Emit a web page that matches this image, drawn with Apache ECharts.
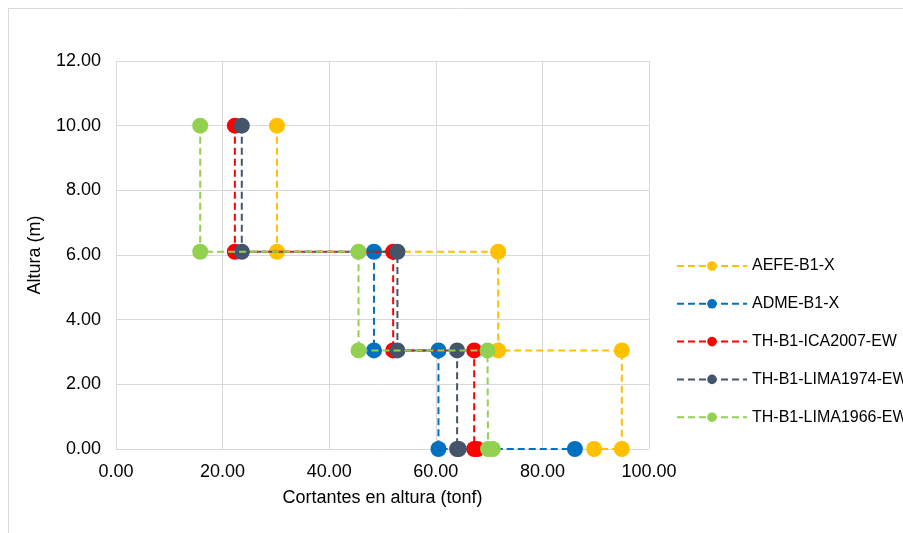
<!DOCTYPE html>
<html>
<head>
<meta charset="utf-8">
<script src="https://cdn.jsdelivr.net/npm/echarts@6/dist/echarts.min.js"></script>
<style>
html,body{margin:0;padding:0;background:#fff;}
#chart{width:903px;height:533px;}
</style>
</head>
<body>
<div id="chart"></div>
<script>
// Series names
const seriesNames = ['AEFE-B1-X','ADME-B1-X','TH-B1-ICA2007-EW','TH-B1-LIMA1974-EW','TH-B1-LIMA1966-EW'];
// Shear (tonf) and height (m) for each series
const aefeX = [30.2, 30.2, 71.7, 71.7, 94.9, 94.9, 89.7];
const aefeY = [10.0, 6.1, 6.1, 3.05, 3.05, 0.0, 0.0];
const admeX = [48.4, 48.4, 60.5, 60.5, 86.1];
const admeY = [6.1, 3.05, 3.05, 0.0, 0.0];
const ica2007X = [22.3, 22.3, 52.0, 52.0, 67.2, 67.2, 67.8];
const ica2007Y = [10.0, 6.1, 6.1, 3.05, 3.05, 0.0, 0.0];
const lima1974X = [23.6, 23.6, 52.8, 52.8, 64.0, 64.0, 64.3];
const lima1974Y = [10.0, 6.1, 6.1, 3.05, 3.05, 0.0, 0.0];
const lima1966X = [15.8, 15.8, 45.5, 45.5, 69.7, 69.8, 70.7];
const lima1966Y = [10.0, 6.1, 6.1, 3.05, 3.05, 0.0, 0.0];
const colors = ['#FFC000','#0070C0','#FF0000','#44546A','#92D050'];

const xs = [aefeX, admeX, ica2007X, lima1974X, lima1966X];
const ys = [aefeY, admeY, ica2007Y, lima1974Y, lima1966Y];

const chart = echarts.init(document.getElementById('chart'));
const font = 'Liberation Sans, Arial, sans-serif';
const series = seriesNames.map((n, i) => ({
  name: n,
  type: 'line',
  data: xs[i].map((x, k) => [x, ys[i][k]]),
  symbol: 'circle',
  symbolSize: 16,
  color: colors[i],
  lineStyle: {width: 2, type: [7, 4], color: colors[i]},
  itemStyle: {color: colors[i]},
  z: 2 + i
}));

chart.setOption({
  animation: false,
  backgroundColor: '#fff',
  graphic: [{
    type: 'rect', shape: {x: 8.5, y: 8.5, width: 1000, height: 1000},
    style: {fill: 'none', stroke: '#d9d9d9', lineWidth: 1}, silent: true
  }],
  grid: {left: 116, right: 254, top: 61, bottom: 84},
  legend: {
    orient: 'vertical', left: 671, top: 253,
    itemWidth: 70, itemHeight: 12, itemGap: 21.8,
    textStyle: {fontFamily: font, fontSize: 16, lineHeight: 16, color: '#000'},
    data: seriesNames
  },
  xAxis: {
    type: 'value', min: 0, max: 100, interval: 20,
    name: 'Cortantes en altura (tonf)', nameLocation: 'middle', nameGap: 40,
    nameTextStyle: {fontFamily: font, fontSize: 18, color: '#000'},
    axisLine: {show: false}, axisTick: {show: false},
    axisLabel: {fontFamily: font, fontSize: 18, color: '#000', margin: 14,
      formatter: v => v.toFixed(2)},
    splitLine: {show: true, lineStyle: {color: '#d9d9d9', width: 1}}
  },
  yAxis: {
    type: 'value', min: 0, max: 12, interval: 2,
    name: 'Altura (m)', nameLocation: 'middle', nameGap: 72,
    nameTextStyle: {fontFamily: font, fontSize: 18, color: '#000'},
    axisLine: {show: false}, axisTick: {show: false},
    axisLabel: {fontFamily: font, fontSize: 18, color: '#000', margin: 15,
      formatter: v => v.toFixed(2)},
    splitLine: {show: true, lineStyle: {color: '#d9d9d9', width: 1}}
  },
  series: series
});
</script>
</body>
</html>
